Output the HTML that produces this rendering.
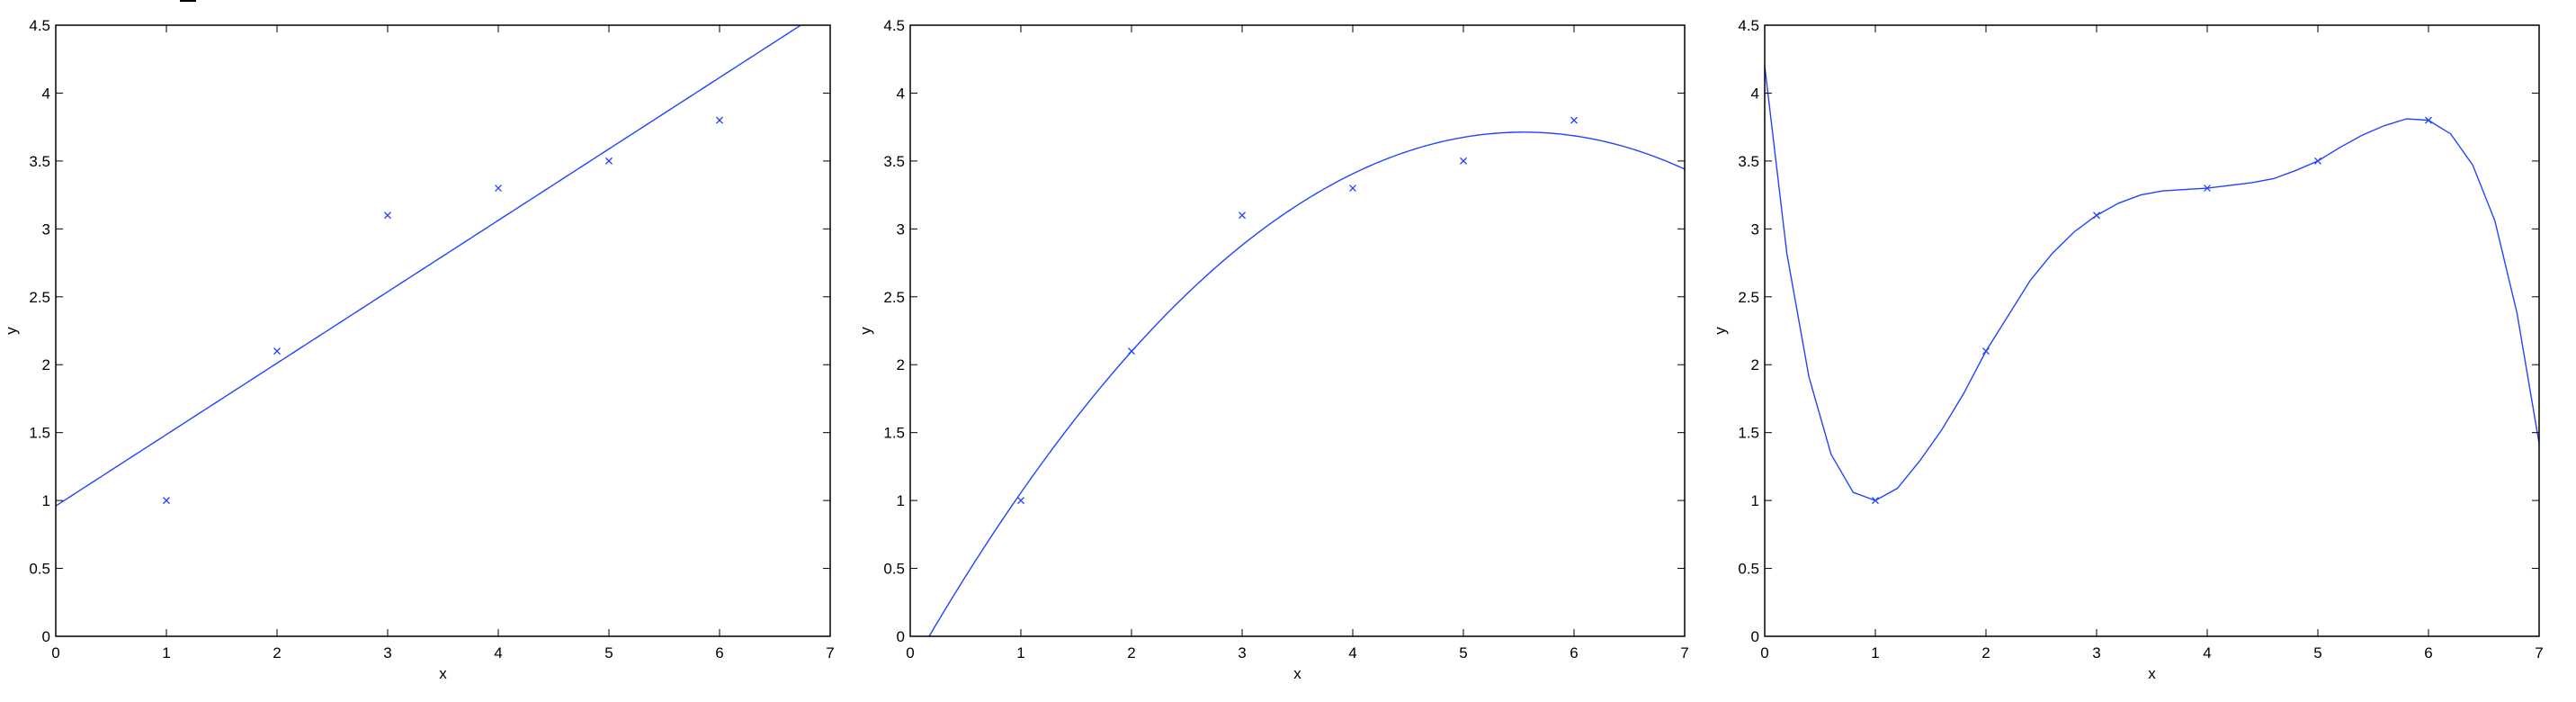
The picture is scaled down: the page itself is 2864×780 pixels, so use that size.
<!DOCTYPE html>
<html><head><meta charset="utf-8"><style>
html,body{margin:0;padding:0;background:#fff;}
svg{display:block;font-family:"Liberation Sans",Arial,sans-serif;}
</style></head><body>
<svg id="fig" width="2864" height="780" viewBox="0 0 2864 780" xmlns="http://www.w3.org/2000/svg">
<rect x="0" y="0" width="2864" height="780" fill="#fff"/>
<rect x="200" y="0" width="18" height="2" fill="#000"/>
</svg>
<script>
const dataX = [1, 2, 3, 4, 5, 6];
const dataY = [1, 2.1, 3.1, 3.3, 3.5, 3.8];
const xTicks = [0, 1, 2, 3, 4, 5, 6, 7];
const yTicks = [0, 0.5, 1, 1.5, 2, 2.5, 3, 3.5, 4, 4.5];
const yTickLabels = ["0", "0.5", "1", "1.5", "2", "2.5", "3", "3.5", "4", "4.5"];
const interpX = [0,0.2,0.4,0.6,0.8,1,1.2,1.4,1.6,1.8,2,2.2,2.4,2.6,2.8,3,3.2,3.4,3.6,3.8,4,4.2,4.4,4.6,4.8,5,5.2,5.4,5.6,5.8,6,6.2,6.4,6.6,6.8,7];
const interpY = [4.2,2.82,1.91,1.34,1.06,1.0,1.09,1.29,1.52,1.79,2.1,2.36,2.62,2.82,2.98,3.1,3.19,3.25,3.28,3.29,3.3,3.32,3.34,3.37,3.43,3.5,3.6,3.69,3.76,3.81,3.8,3.7,3.47,3.06,2.38,1.42];
const panelLefts = [62, 1012, 1962];

const NS = "http://www.w3.org/2000/svg";
const svg = document.getElementById('fig');
const W = 861, TOP = 28, BOT = 707, XMAX = 7, YMAX = 4.5;
const BLUE = "#2244ff";

function mk(tag, attrs, parent) {
  const e = document.createElementNS(NS, tag);
  for (const k in attrs) e.setAttribute(k, attrs[k]);
  (parent || svg).appendChild(e);
  return e;
}
function polyfit(xs, ys, deg) {
  const n = deg + 1;
  const A = [];
  for (let i = 0; i < n; i++) {
    A.push([]);
    for (let j = 0; j < n; j++) { let s = 0; xs.forEach(x => s += Math.pow(x, i + j)); A[i].push(s); }
    let r = 0; xs.forEach((x, k) => r += ys[k] * Math.pow(x, i)); A[i].push(r);
  }
  for (let i = 0; i < n; i++) {
    for (let k = i + 1; k < n; k++) { const f = A[k][i] / A[i][i]; for (let j = i; j <= n; j++) A[k][j] -= f * A[i][j]; }
  }
  const c = new Array(n).fill(0);
  for (let i = n - 1; i >= 0; i--) { let s = A[i][n]; for (let j = i + 1; j < n; j++) s -= A[i][j] * c[j]; c[i] = s / A[i][i]; }
  return c;
}

panelLefts.forEach((L, p) => {
  const sx = v => L + v / XMAX * W;
  const sy = v => BOT - v / YMAX * (BOT - TOP);
  const g = mk('g', {});
  
  
  const cid = 'clip' + p;
  const cp = mk('clipPath', { id: cid }, g);
  mk('rect', { x: L, y: TOP, width: W, height: BOT - TOP }, cp);

  // curve
  let pts = [];
  if (p < 2) {
    const c = polyfit(dataX, dataY, p + 1);
    for (let i = 0; i <= 280; i++) {
      const x = i * XMAX / 280; let y = 0;
      c.forEach((ci, k) => y += ci * Math.pow(x, k));
      pts.push(sx(x).toFixed(2) + ',' + sy(y).toFixed(2));
    }
  } else {
    interpX.forEach((x, i) => pts.push(sx(x).toFixed(2) + ',' + sy(interpY[i]).toFixed(2)));
  }
  const line = mk('polyline', { points: pts.join(' '), fill: 'none', stroke: BLUE, 'stroke-width': 1.4, 'clip-path': 'url(#' + cid + ')' }, g);
  
  

  // markers
  dataX.forEach((x, i) => {
    const cx = sx(x), cy = sy(dataY[i]), r = 3.5;
    const m = mk('path', { d: `M${cx - r},${cy - r}L${cx + r},${cy + r}M${cx - r},${cy + r}L${cx + r},${cy - r}`, stroke: BLUE, 'stroke-width': 1.3, fill: 'none' }, g);
    
    
  });

  // ticks
  xTicks.forEach(t => {
    const x = sx(t);
    mk('line', { x1: x, y1: BOT, x2: x, y2: BOT - 8, stroke: '#000', 'stroke-width': 1 }, g);
    mk('line', { x1: x, y1: TOP, x2: x, y2: TOP + 8, stroke: '#000', 'stroke-width': 1 }, g);
    const tx = mk('text', { x: x, y: 731, 'font-size': 17, 'text-anchor': 'middle', fill: '#000' }, g);
    tx.textContent = String(t);
    
    
  });
  yTicks.forEach((t, i) => {
    const y = sy(t);
    mk('line', { x1: L, y1: y, x2: L + 8, y2: y, stroke: '#000', 'stroke-width': 1 }, g);
    mk('line', { x1: L + W, y1: y, x2: L + W - 8, y2: y, stroke: '#000', 'stroke-width': 1 }, g);
    const ty = mk('text', { x: L - 6, y: y + 6, 'font-size': 17, 'text-anchor': 'end', fill: '#000' }, g);
    ty.textContent = yTickLabels[i];
    
    
  });
  const frame = mk('rect', { x: L, y: TOP, width: W, height: BOT - TOP, fill: 'none', stroke: '#000', 'stroke-width': 1.5 }, g);
  
  

  const xl = mk('text', { x: L + W / 2, y: 754, 'font-size': 17, 'text-anchor': 'middle', fill: '#000' }, g);
  xl.textContent = 'x';
  
  
  const yl = mk('text', { x: L - 44, y: (TOP + BOT) / 2, 'font-size': 17, 'text-anchor': 'middle', fill: '#000', transform: `rotate(-90 ${L - 44} ${(TOP + BOT) / 2})` }, g);
  yl.textContent = 'y';
  
  
});
</script>
</body></html>
